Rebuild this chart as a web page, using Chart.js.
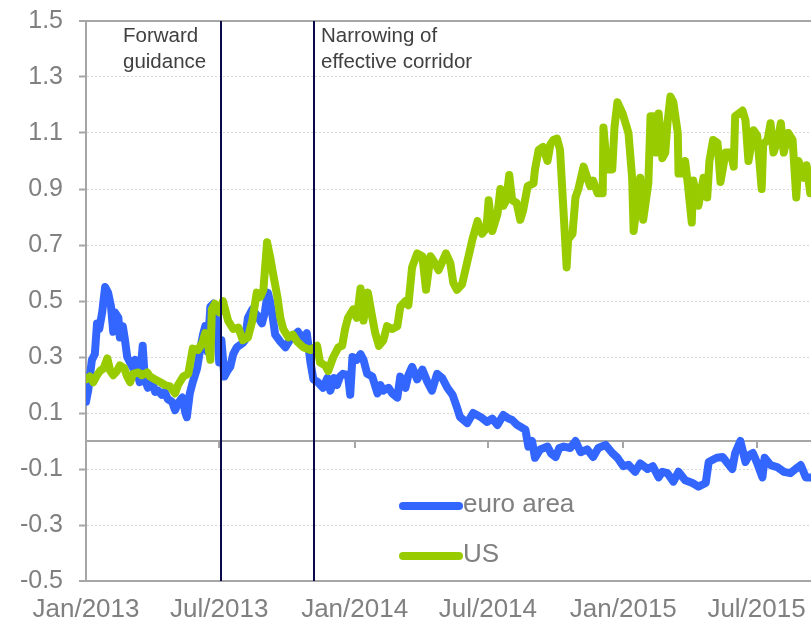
<!DOCTYPE html>
<html>
<head>
<meta charset="utf-8">
<script src="https://cdn.jsdelivr.net/npm/chart.js@4/dist/chart.umd.min.js"></script>
<style>
  html, body { margin: 0; padding: 0; background: #ffffff; }
  canvas { display: block; }
</style>
</head>
<body>
<canvas id="c" width="811" height="623"></canvas>
<script>
// ---------------- data ----------------
const seriesNames = ['euro area', 'US'];

const euroDates = [
'2013-01-01','2013-01-04','2013-01-09','2013-01-13','2013-01-16','2013-01-19','2013-01-23','2013-01-27','2013-01-31','2013-02-04',
'2013-02-07','2013-02-09','2013-02-14','2013-02-16','2013-02-20','2013-02-23','2013-02-26','2013-03-02','2013-03-06','2013-03-09',
'2013-03-13','2013-03-15','2013-03-19','2013-03-22','2013-03-26','2013-04-01','2013-04-05','2013-04-09','2013-04-14','2013-04-18',
'2013-04-22','2013-04-28','2013-05-02','2013-05-06','2013-05-12','2013-05-16','2013-05-18','2013-05-22','2013-05-26','2013-06-01',
'2013-06-05','2013-06-09','2013-06-12','2013-06-15','2013-06-19','2013-06-23','2013-06-28','2013-07-01','2013-07-04','2013-07-08',
'2013-07-12','2013-07-16','2013-07-20','2013-07-25','2013-08-02','2013-08-05','2013-08-09','2013-08-15','2013-08-21','2013-08-28',
'2013-09-01','2013-09-05','2013-09-08','2013-09-11','2013-09-15','2013-09-22','2013-09-29','2013-10-05','2013-10-09','2013-10-16',
'2013-10-23','2013-10-28','2013-11-02','2013-11-06','2013-11-12','2013-11-19','2013-11-25','2013-11-29','2013-12-04','2013-12-08',
'2013-12-12','2013-12-16','2013-12-23','2013-12-26','2013-12-29','2014-01-04','2014-01-09','2014-01-13','2014-01-18','2014-01-25',
'2014-02-01','2014-02-05','2014-02-09','2014-02-16','2014-02-21','2014-02-28','2014-03-04','2014-03-11','2014-03-15','2014-03-20',
'2014-03-27','2014-04-03','2014-04-10','2014-04-16','2014-04-23','2014-04-30','2014-05-07','2014-05-14','2014-05-20','2014-05-24',
'2014-06-03','2014-06-11','2014-06-21','2014-06-30','2014-07-07','2014-07-14','2014-07-22','2014-07-29','2014-08-03','2014-08-10',
'2014-08-21','2014-08-25','2014-08-30','2014-09-03','2014-09-10','2014-09-20','2014-09-25','2014-10-01','2014-10-06','2014-10-12',
'2014-10-21','2014-10-28','2014-11-04','2014-11-13','2014-11-21','2014-11-28','2014-12-08','2014-12-17','2014-12-24','2015-01-01',
'2015-01-08','2015-01-17','2015-01-24','2015-02-03','2015-02-10','2015-02-18','2015-02-23','2015-03-02','2015-03-10','2015-03-17',
'2015-03-26','2015-04-05','2015-04-13','2015-04-23','2015-04-27','2015-05-02','2015-05-08','2015-05-16','2015-05-23','2015-05-29',
'2015-06-02','2015-06-09','2015-06-16','2015-06-21','2015-06-26','2015-07-02','2015-07-09','2015-07-12','2015-07-20','2015-07-29',
'2015-08-07','2015-08-16','2015-08-23','2015-08-30','2015-09-06','2015-09-14'];

const euroValues = [
0.14,0.18,0.29,0.31,0.42,0.40,0.46,0.55,0.53,0.48,
0.39,0.46,0.44,0.37,0.41,0.36,0.30,0.28,0.26,0.29,
0.23,0.21,0.34,0.22,0.19,0.21,0.175,0.18,0.165,0.175,
0.15,0.14,0.11,0.135,0.155,0.10,0.085,0.17,0.21,0.26,
0.325,0.38,0.41,0.32,0.48,0.49,0.42,0.28,0.36,0.23,
0.25,0.265,0.31,0.335,0.35,0.36,0.44,0.47,0.45,0.42,
0.46,0.53,0.50,0.455,0.38,0.355,0.335,0.36,0.37,0.39,
0.365,0.385,0.28,0.22,0.21,0.19,0.225,0.18,0.225,0.20,
0.23,0.24,0.235,0.165,0.30,0.29,0.31,0.29,0.24,0.23,
0.17,0.20,0.18,0.19,0.17,0.155,0.23,0.19,0.235,0.265,
0.22,0.255,0.21,0.18,0.24,0.225,0.19,0.165,0.12,0.086,
0.064,0.10,0.086,0.068,0.08,0.057,0.093,0.08,0.075,0.057,
0.04,-0.02,0.0,-0.06,-0.03,-0.02,-0.045,-0.057,-0.025,-0.02,
-0.025,0.0,-0.04,-0.03,-0.057,-0.025,-0.014,-0.043,-0.06,-0.09,
-0.085,-0.11,-0.08,-0.10,-0.09,-0.13,-0.11,-0.115,-0.145,-0.11,
-0.14,-0.15,-0.163,-0.15,-0.075,-0.068,-0.06,-0.057,-0.08,-0.10,
-0.043,0.0,-0.075,-0.05,-0.043,-0.08,-0.13,-0.06,-0.086,-0.093,
-0.11,-0.115,-0.10,-0.086,-0.13,-0.13];

const usDates = [
'2013-01-01','2013-01-06','2013-01-11','2013-01-16','2013-01-20','2013-01-25','2013-01-30','2013-02-03','2013-02-07','2013-02-12',
'2013-02-16','2013-02-22','2013-02-26','2013-03-02','2013-03-06','2013-03-13','2013-03-18','2013-03-25','2013-03-29','2013-04-05',
'2013-04-12','2013-04-18','2013-04-25','2013-05-02','2013-05-06','2013-05-13','2013-05-20','2013-05-26','2013-06-02','2013-06-08',
'2013-06-12','2013-06-16','2013-06-19','2013-06-21','2013-06-25','2013-07-01','2013-07-06','2013-07-13','2013-07-20','2013-07-27',
'2013-08-02','2013-08-09','2013-08-15','2013-08-21','2013-08-26','2013-08-30','2013-09-04','2013-09-08','2013-09-12','2013-09-18',
'2013-09-22','2013-09-26','2013-10-03','2013-10-09','2013-10-15','2013-10-23','2013-11-02','2013-11-11','2013-11-15','2013-11-22',
'2013-11-26','2013-12-03','2013-12-10','2013-12-15','2013-12-19','2013-12-23','2013-12-30','2014-01-04','2014-01-09','2014-01-13',
'2014-01-19','2014-01-25','2014-01-29','2014-02-03','2014-02-09','2014-02-14','2014-02-21','2014-02-28','2014-03-04','2014-03-11',
'2014-03-15','2014-03-20','2014-03-27','2014-04-03','2014-04-08','2014-04-14','2014-04-19','2014-04-25','2014-04-30','2014-05-05',
'2014-05-11','2014-05-15','2014-05-20','2014-05-27','2014-06-03','2014-06-10','2014-06-17','2014-06-23','2014-06-29','2014-07-02',
'2014-07-07','2014-07-14','2014-07-18','2014-07-22','2014-07-26','2014-07-30','2014-08-03','2014-08-09','2014-08-14','2014-08-18',
'2014-08-24','2014-09-01','2014-09-03','2014-09-08','2014-09-14','2014-09-20','2014-09-24','2014-09-28','2014-10-03','2014-10-07',
'2014-10-12','2014-10-16','2014-10-18','2014-10-24','2014-10-28','2014-11-01','2014-11-08','2014-11-13','2014-11-17','2014-11-21',
'2014-11-27','2014-12-04','2014-12-05','2014-12-10','2014-12-17','2014-12-20','2014-12-24','2014-12-31','2015-01-04','2015-01-08',
'2015-01-13','2015-01-15','2015-01-20','2015-01-24','2015-01-28','2015-02-04','2015-02-07','2015-02-11','2015-02-14','2015-02-18',
'2015-02-23','2015-02-27','2015-03-02','2015-03-06','2015-03-10','2015-03-16','2015-03-17','2015-03-22','2015-03-26','2015-03-30',
'2015-04-04','2015-04-06','2015-04-13','2015-04-20','2015-04-25','2015-04-28','2015-05-03','2015-05-09','2015-05-13','2015-05-20',
'2015-05-27','2015-05-31','2015-06-02','2015-06-12','2015-06-16','2015-06-20','2015-06-27','2015-07-02','2015-07-08','2015-07-10',
'2015-07-16','2015-07-20','2015-07-24','2015-07-30','2015-08-03','2015-08-07','2015-08-13','2015-08-19','2015-08-24','2015-08-27',
'2015-09-03','2015-09-07','2015-09-12'];

const usValues = [
0.22,0.23,0.21,0.235,0.25,0.26,0.295,0.25,0.235,0.25,
0.27,0.26,0.23,0.21,0.24,0.245,0.235,0.245,0.23,0.22,
0.21,0.20,0.195,0.17,0.20,0.23,0.24,0.33,0.325,0.35,
0.385,0.34,0.29,0.47,0.49,0.46,0.50,0.43,0.40,0.405,
0.36,0.37,0.43,0.53,0.515,0.54,0.71,0.66,0.60,0.515,
0.44,0.40,0.37,0.38,0.355,0.335,0.325,0.34,0.28,0.27,
0.25,0.30,0.335,0.34,0.40,0.44,0.47,0.44,0.545,0.43,
0.53,0.44,0.385,0.34,0.36,0.41,0.40,0.41,0.48,0.50,
0.485,0.62,0.67,0.66,0.54,0.66,0.64,0.61,0.64,0.67,
0.635,0.565,0.54,0.56,0.64,0.72,0.785,0.74,0.76,0.86,
0.75,0.81,0.90,0.84,0.86,0.95,0.86,0.85,0.79,0.825,
0.91,0.92,0.97,1.04,1.05,1.00,1.06,1.075,1.08,1.04,
0.81,0.62,0.72,0.74,0.87,0.90,0.98,0.94,0.91,0.93,
0.885,0.885,1.12,0.97,0.97,1.12,1.21,1.17,1.135,1.10,
0.94,0.75,0.86,0.94,0.79,0.92,1.16,1.16,1.03,1.17,
1.01,1.03,1.135,1.23,1.21,1.10,0.955,0.955,1.00,0.91,
0.78,0.93,0.84,0.94,0.87,1.00,1.075,1.065,0.925,1.03,
1.03,0.98,1.16,1.18,1.145,1.00,1.11,1.09,0.90,1.06,
1.075,1.135,1.03,1.075,1.135,1.03,1.10,1.075,0.87,1.00,
0.94,0.985,0.885];

const xTickDates  = ['2013-01-01','2013-07-01','2014-01-01','2014-07-01','2015-01-01','2015-07-01'];
const xTickLabels = ['Jan/2013','Jul/2013','Jan/2014','Jul/2014','Jan/2015','Jul/2015'];
const yTicks      = [-0.5,-0.3,-0.1,0.1,0.3,0.5,0.7,0.9,1.1,1.3,1.5];
const xRange      = ['2013-01-01','2015-09-13'];
const eventDates  = ['2013-07-04','2013-11-07'];
const eventLabels = [['Forward','guidance'],['Narrowing of','effective corridor']];

// ---------------- helpers ----------------
const ORIGIN = Date.UTC(2013, 0, 1);
function dayOf(s) {
  const p = s.split('-').map(Number);
  return (Date.UTC(p[0], p[1] - 1, p[2]) - ORIGIN) / 86400000;
}
function toPoints(dates, vals) {
  return dates.map((d, i) => ({ x: dayOf(d), y: vals[i] }));
}

const FONT = "'Liberation Sans', Arial, sans-serif";
const AXIS_GREY = '#a6a6a6';
const TEXT_GREY = '#808080';

// zero line with tick marks, event lines, annotations, legend
const decorations = {
  id: 'decorations',
  beforeDatasetsDraw(chart) {
    const { ctx, chartArea } = chart;
    const xs = chart.scales.x, ys = chart.scales.y;
    const y0 = Math.round(ys.getPixelForValue(0));
    ctx.save();
    ctx.strokeStyle = AXIS_GREY;
    ctx.lineWidth = 2;
    ctx.beginPath();
    ctx.moveTo(chartArea.left, y0);
    ctx.lineTo(chartArea.right, y0);
    xTickDates.forEach(d => {
      const px = Math.round(xs.getPixelForValue(dayOf(d)));
      ctx.moveTo(px, y0);
      ctx.lineTo(px, y0 + 7);
    });
    ctx.stroke();
    ctx.restore();
  },
  afterDatasetsDraw(chart, args, opts) {
    const { ctx, chartArea } = chart;
    const xs = chart.scales.x;
    ctx.save();
    // event lines
    ctx.strokeStyle = '#0a0a4a';
    ctx.lineWidth = 2;
    eventDates.forEach((d, i) => {
      const px = Math.round(xs.getPixelForValue(dayOf(d)));
      ctx.beginPath();
      ctx.moveTo(px, chartArea.top);
      ctx.lineTo(px, chartArea.bottom);
      ctx.stroke();
      ctx.fillStyle = '#404040';
      ctx.font = '20.5px ' + FONT;
      ctx.textAlign = 'left';
      ctx.textBaseline = 'alphabetic';
      eventLabels[i].forEach((line, j) => {
        ctx.fillText(line, px + opts.labelOffsets[i], chartArea.top + 21 + j * 26);
      });
    });
    // legend
    chart.data.datasets.forEach((ds, i) => {
      const ly = opts.legendY + i * opts.legendGap;
      ctx.strokeStyle = ds.borderColor;
      ctx.lineWidth = 8;
      ctx.lineCap = 'round';
      ctx.beginPath();
      ctx.moveTo(opts.legendX, ly);
      ctx.lineTo(opts.legendX + 56, ly);
      ctx.stroke();
      ctx.fillStyle = TEXT_GREY;
      ctx.font = '26px ' + FONT;
      ctx.textAlign = 'left';
      ctx.textBaseline = 'middle';
      ctx.fillText(ds.label, opts.legendX + 60, ly - 1);
    });
    ctx.restore();
  }
};

const isEdge = v => Math.abs(v - 1.5) < 1e-9 || Math.abs(v + 0.5) < 1e-9;
const noPad = s => { s.paddingTop = 0; s.paddingBottom = 0; s.paddingLeft = 0; s.paddingRight = 0; };

new Chart(document.getElementById('c'), {
  type: 'line',
  data: {
    datasets: [
      {
        label: seriesNames[0],
        data: toPoints(euroDates, euroValues),
        borderColor: '#3366ff',
        backgroundColor: '#3366ff',
        borderWidth: 8,
        pointRadius: 0,
        tension: 0,
        borderJoinStyle: 'round',
        borderCapStyle: 'round',
        order: 2
      },
      {
        label: seriesNames[1],
        data: toPoints(usDates, usValues),
        borderColor: '#99cc00',
        backgroundColor: '#99cc00',
        borderWidth: 8,
        pointRadius: 0,
        tension: 0,
        borderJoinStyle: 'round',
        borderCapStyle: 'round',
        order: 1
      }
    ]
  },
  options: {
    responsive: false,
    animation: false,
    devicePixelRatio: 1,
    layout: { padding: { top: 21, left: 0, right: 0, bottom: 0 } },
    plugins: {
      legend: { display: false },
      tooltip: { enabled: false },
      decorations: { labelOffsets: [-98, 7], legendX: 403, legendY: 506, legendGap: 50 }
    },
    scales: {
      x: {
        type: 'linear',
        min: dayOf(xRange[0]),
        max: dayOf(xRange[1]),
        afterBuildTicks: s => { s.ticks = xTickDates.map(d => ({ value: dayOf(d) })); },
        afterFit: s => { s.height = 42; noPad(s); },
        grid: { display: false, drawTicks: false },
        border: { display: true, color: AXIS_GREY, width: 2 },
        ticks: {
          autoSkip: false,
          maxRotation: 0,
          padding: 13,
          color: TEXT_GREY,
          font: { family: FONT, size: 26 },
          callback: (v, i) => xTickLabels[i]
        }
      },
      y: {
        type: 'linear',
        min: -0.5,
        max: 1.5,
        afterBuildTicks: s => { s.ticks = yTicks.map(v => ({ value: v })); },
        afterFit: s => { s.width = 86; noPad(s); },
        grid: {
          drawTicks: true,
          tickLength: 7,
          tickColor: AXIS_GREY,
          tickWidth: 2,
          color: c => (c.tick && isEdge(c.tick.value)) ? AXIS_GREY : '#d9d9d9',
          lineWidth: c => (c.tick && isEdge(c.tick.value)) ? 2 : 1
        },
        border: {
          display: true,
          color: AXIS_GREY,
          width: 2,
          dash: c => (c.tick && isEdge(c.tick.value)) ? [] : [2, 2]
        },
        ticks: {
          padding: 16,
          color: TEXT_GREY,
          font: { family: FONT, size: 25 },
          callback: v => Number(v).toFixed(1)
        }
      }
    }
  },
  plugins: [decorations]
});
</script>
</body>
</html>
